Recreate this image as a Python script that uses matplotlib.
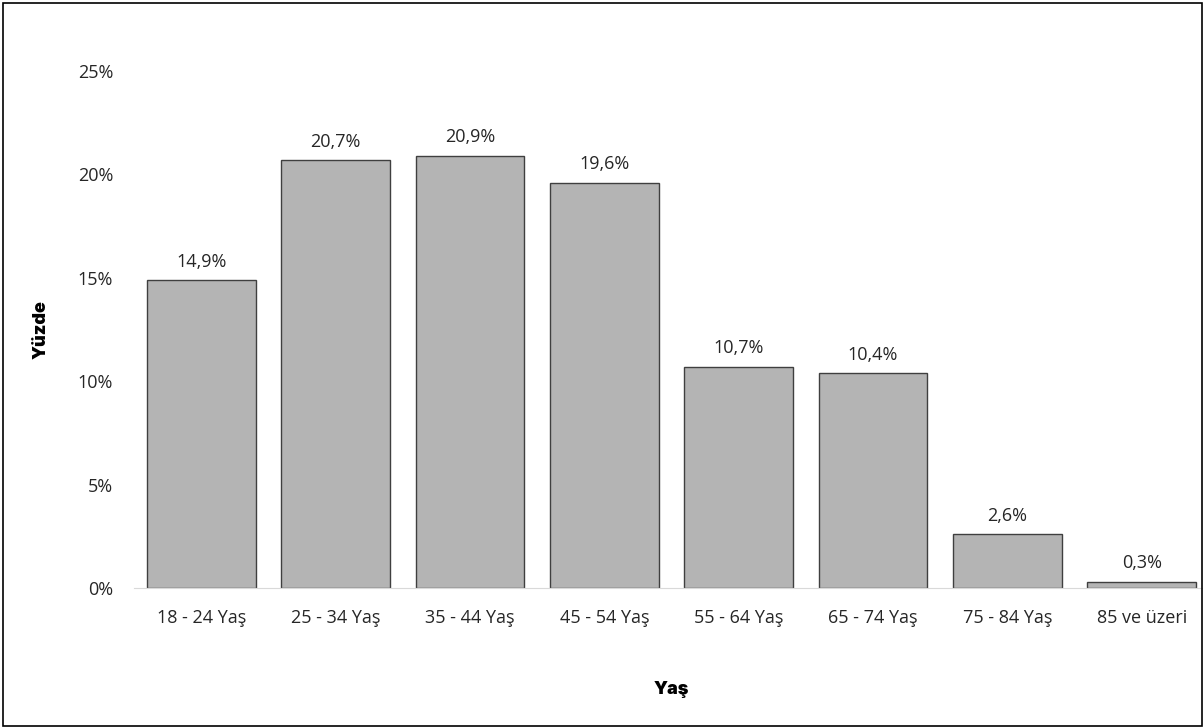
import matplotlib.pyplot as plt
from matplotlib.patches import Rectangle
from matplotlib.ticker import FuncFormatter

# Age groups and share (%)
categories = ["18 - 24 Yaş", "25 - 34 Yaş", "35 - 44 Yaş", "45 - 54 Yaş",
              "55 - 64 Yaş", "65 - 74 Yaş", "75 - 84 Yaş", "85 ve üzeri"]
values = [14.9, 20.7, 20.9, 19.6, 10.7, 10.4, 2.6, 0.3]
yticks = [0, 5, 10, 15, 20, 25]

plt.rcParams['font.family'] = ['Open Sans', 'DejaVu Sans']

fig = plt.figure(figsize=(12.03, 7.28), dpi=100)
ax = fig.add_axes([134 / 1203, 1 - 588 / 728, 1075 / 1203, 517 / 728])

x = range(len(categories))
bars = ax.bar(x, values, width=0.81, color='#b4b4b4', edgecolor='#3f3f3f', linewidth=1)

for xi, v in zip(x, values):
    ax.text(xi, v + 0.45, f"{v:.1f}%".replace('.', ','), ha='center', va='bottom',
            fontsize=13, color='#262626')

ax.set_xlim(-0.5, len(categories) - 0.5)
ax.set_ylim(0, 25)
ax.set_yticks(yticks)
ax.yaxis.set_major_formatter(FuncFormatter(lambda v, p: f"{v:.0f}%"))
ax.set_xticks(list(x))
ax.set_xticklabels(categories)
ax.tick_params(axis='both', length=0, labelsize=13, colors='#262626')
ax.tick_params(axis='y', pad=15)
ax.tick_params(axis='x', pad=15)

for s in ['top', 'right', 'left']:
    ax.spines[s].set_visible(False)
ax.spines['bottom'].set_color('#d9d9d9')

ax.set_xlabel("Yaş", family=['Inter', 'DejaVu Sans'], fontweight=900, fontsize=13, labelpad=39)
ax.set_ylabel("Yüzde", family=['Inter', 'DejaVu Sans'], fontweight=900, fontsize=13, labelpad=20)

# outer border
fig.patches.append(Rectangle((3 / 1203, 2 / 728), 1 - 4 / 1203, 1 - 5 / 728, transform=fig.transFigure,
                             fill=False, edgecolor='black', linewidth=1.2))

fig.savefig("out.png", dpi=100)
